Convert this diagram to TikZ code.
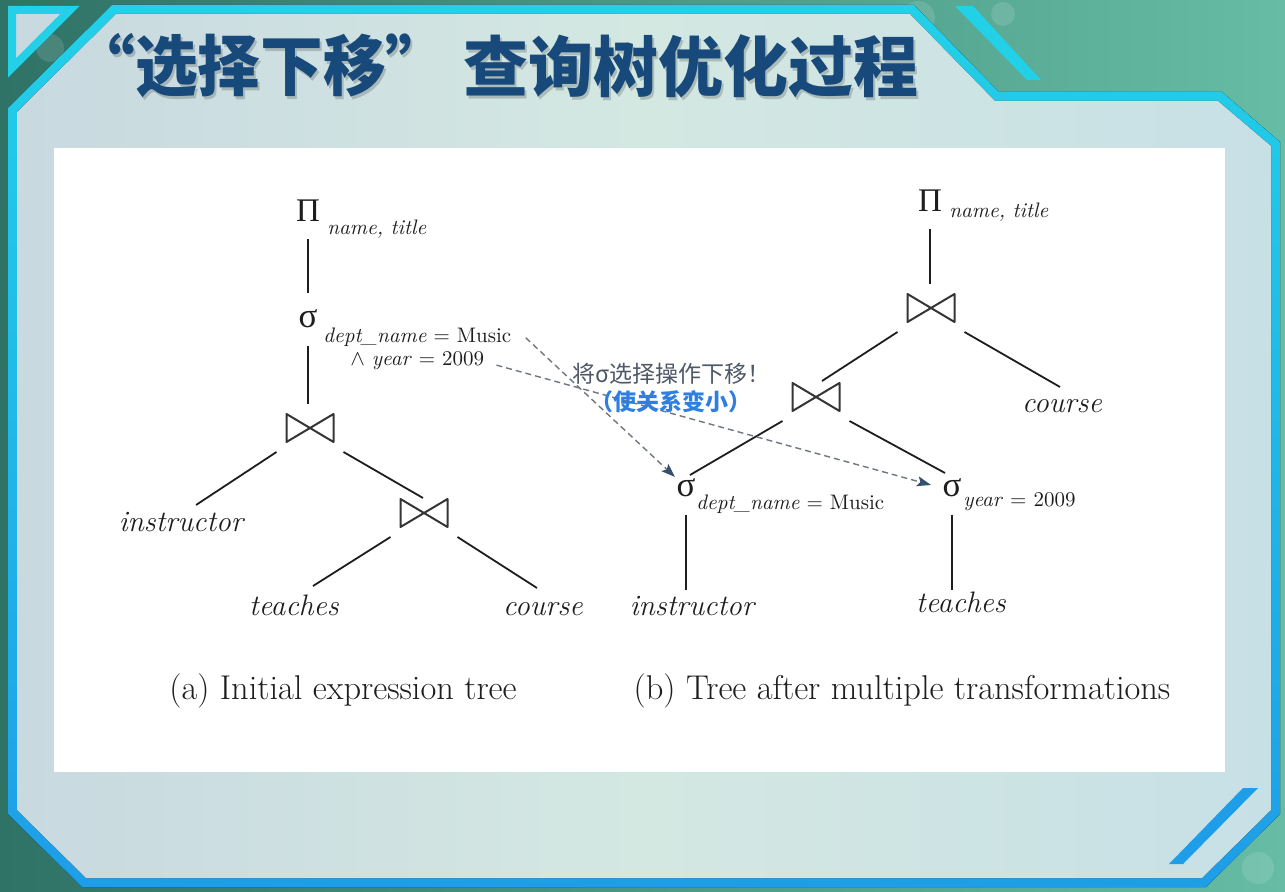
\documentclass[tikz,border=0pt]{standalone}
\usepackage{fontspec}
\newfontfamily\cjk{Noto Sans CJK SC}
\newfontfamily\grk{Liberation Serif}
\usetikzlibrary{arrows.meta}

\definecolor{bgdark}{HTML}{2F7266}
\definecolor{bglight}{HTML}{66BCA4}
\definecolor{frametop}{HTML}{22D0E8}
\definecolor{framebot}{HTML}{1E9EE8}
\definecolor{panelL}{HTML}{C8D9E0}
\definecolor{panelM}{HTML}{D4E8E2}
\definecolor{panelR}{HTML}{C7E0E6}
\definecolor{titleblue}{HTML}{17497A}
\definecolor{ink}{HTML}{1E1E1E}
\definecolor{dashgray}{HTML}{6E7680}
\definecolor{tipblue}{HTML}{34506E}
\definecolor{notegray}{HTML}{4E5868}
\definecolor{noteblue}{HTML}{2F7FE0}

\newcommand\titlepartA{\scalebox{0.95}[1]{“选择下移”}}
\newcommand\titlepartB{\scalebox{0.985}[1]{查询树优化过程}}

\tikzset{
  treeline/.style={draw=ink, line width=0.9pt},
  bowline/.style={draw=ink!90, line width=1pt, line join=round},
  opsym/.style={font=\grk\fontsize{16.5}{20}\selectfont, text=ink, inner xsep=0pt, inner ysep=8.5pt, anchor=base},
  sigsym/.style={opsym, font=\grk\fontsize{17.5}{20}\selectfont},
  joinop/.style={rectangle, minimum width=23.5pt, minimum height=14pt, inner sep=0pt, outer sep=5pt},
  subtxt/.style={font=\rmfamily\fontsize{10.5}{13}\selectfont, text=ink, inner sep=0pt, anchor=base west},
  leafnode/.style={font=\rmfamily\itshape\fontsize{14.8}{18}\selectfont, text=ink, inner sep=0pt, anchor=base},
  captxt/.style={font=\rmfamily\fontsize{17.2}{20}\selectfont, text=ink, inner sep=0pt, anchor=base},
  movearrow/.style={draw=dashgray, line width=0.7pt, dash pattern=on 3pt off 2pt,
    -{Stealth[length=7pt, width=5pt, color=tipblue, fill=tipblue, inset=1.5pt]}},
  titletxt/.style={font=\cjk\bfseries\fontsize{33}{36}\selectfont, inner sep=0pt, anchor=west},
}

\begin{document}
\begin{tikzpicture}[x=0.5pt, y=-0.5pt]
\useasboundingbox (0,0) rectangle (1285,892);

% teal backdrop with a few soft light spots
\shade[left color=bgdark, right color=bglight] (0,0) rectangle (1285,892);
\foreach \cx/\cy/\r in {50/48/14, 918/18/17, 1003/14/12, 1262/300/12, 1258/868/16}
  \fill[white, opacity=0.12] (\cx,\cy) circle[radius=\r];

% framed panel: outer border ring, then the panel face
\fill[top color=frametop, bottom color=framebot]
  (8,108) -- (112,5) -- (914,5) -- (999,92) -- (1222,92) -- (1280,142)
  -- (1280,814) -- (1206,887) -- (82,887) -- (8,814) -- cycle;
\fill[left color=panelL, right color=panelR, middle color=panelM]
  (17,112) -- (116,14) -- (910,14) -- (995,101) -- (1218,101) -- (1271,146)
  -- (1271,810) -- (1202,878) -- (86,878) -- (17,810) -- cycle;

% corner ornaments
\draw[draw=frametop, line width=4pt, fill=panelL, miter limit=10]
  (12,10) -- (70,10) -- (12,68) -- cycle;
\fill[frametop] (955,6) -- (973,6) -- (1041,80) -- (1027,80) -- cycle;
\fill[framebot] (1243,788) -- (1258,788) -- (1183,864) -- (1169,864) -- cycle;

% white sheet holding the two trees
\fill[white] (54,148) rectangle (1225,772);

% heading, with a faint drop shadow
\node[titletxt, text=black, opacity=0.18] (ttlshA) at (74,69) {\titlepartA};
\node[titletxt, text=black, opacity=0.18] (ttlshB) at (465,69) {\titlepartB};
\node[titletxt, text=titleblue] (ttlA) at (72,66) {\titlepartA};
\node[titletxt, text=titleblue] (ttlB) at (463,66) {\titlepartB};

% ---------- (a) initial expression tree ----------
\node[opsym] (pa) at (308,222) {Π};
\node[subtxt] (pas) at (327,235) {\itshape name, title};
\node[sigsym] (sa) at (308,328) {σ};
\node[subtxt] (c1) at (323,343) {\textit{dept\_name} = Music};
\node[subtxt] (c2) at (350,366) {$\wedge$ \textit{year} = 2009};
\node[joinop] (ja) at (310,428) {};
\node[joinop] (jb) at (424,513) {};
\node[leafnode] (ia) at (181,532) {instructor};
\node[leafnode] (ta) at (294,616) {teaches};
\node[leafnode] (ca) at (543,616) {course};

% ---------- (b) transformed tree ----------
\node[opsym] (pb) at (930,212) {Π};
\node[subtxt] (pbs) at (949,218) {\itshape name, title};
\node[joinop] (jc) at (931,308) {};
\node[joinop] (jd) at (816,397) {};
\node[leafnode] (cb) at (1062,413) {course};
\node[sigsym] (sd) at (686,497) {σ};
\node[subtxt] (sds) at (696,510) {\textit{dept\_name} = Music};
\node[sigsym] (sy) at (952,497) {σ};
\node[subtxt] (sys) at (963,507) {\textit{year} = 2009};
\node[leafnode] (ib) at (692,616) {instructor};
\node[leafnode] (tb) at (961,613) {teaches};

% join symbols
\foreach \j in {ja,jb,jc,jd}
  \draw[bowline, shift={(\j.center)}]
    (-23.5,-14) -- (23.5,14) -- (23.5,-14) -- (-23.5,14) -- cycle;

% tree edges (a)
\draw[treeline] (pa.south) -- (sa.north);
\draw[treeline] (sa.south) -- (sa.south |- ja.north);
\draw[treeline] (ja.south west) -- ([shift={(15,-27)}]ia.base);
\draw[treeline] (ja.south east) -- ([shift={(-1,-15)}]jb.center);
\draw[treeline] (jb.south west) -- ([shift={(19,-30)}]ta.base);
\draw[treeline] (jb.south east) -- ([shift={(-6,-28)}]ca.base);

% tree edges (b)
\draw[treeline] (pb.south) -- (pb.south |- jc.north);
\draw[treeline] (jc.south east) -- ([shift={(-2,-26)}]cb.base);
\draw[treeline] (jc.south west) -- ([shift={(6,-16)}]jd.center);
\draw[treeline] (jd.south west) -- ([shift={(4,-22)}]sd.base);
\draw[treeline] (jd.south east) -- ([shift={(-7,-24)}]sy.base);
\draw[treeline] (sd.south) -- ([shift={(-6,-26)}]ib.base);
\draw[treeline] (sy.south) -- ([shift={(-9,-23)}]tb.base);

% selections pushed down
\draw[movearrow] ([shift={(14,0)}]c1.east) -- ([shift={(-11,-20)}]sd.base);
\draw[movearrow] ([shift={(12,4)}]c2.east) -- ([shift={(-21,-12)}]sy.base);

\node[font=\cjk\fontsize{11.5}{14}\selectfont, align=center, text=notegray] (note) at (671,388)
  {将σ选择操作下移！\\{\bfseries\color{noteblue}（使关系变小）}};

% captions
\node[captxt] (capa) at (343,699) {(a) Initial expression tree};
\node[captxt] (capb) at (902,699) {(b) Tree after multiple transformations};
\end{tikzpicture}
\end{document}
